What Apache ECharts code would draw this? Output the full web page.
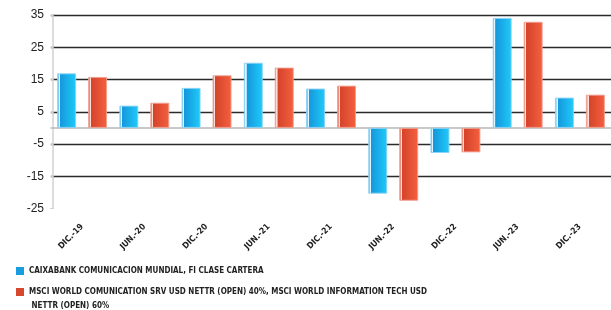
<!DOCTYPE html>
<html>
<head>
<meta charset="utf-8">
<script src="https://cdn.jsdelivr.net/npm/echarts@6/dist/echarts.min.js"></script>
<style>
  html, body { margin: 0; padding: 0; background: #fff; }
  #chart { width: 611px; height: 310px; }
</style>
</head>
<body>
<div id="chart"></div>
<script>
    // datos
    var periodos = ['DIC.-19', 'JUN.-20', 'DIC.-20', 'JUN.-21', 'DIC.-21', 'JUN.-22', 'DIC.-22', 'JUN.-23', 'DIC.-23'];
    var fondo = [16.9, 6.9, 12.4, 20.2, 12.2, -20.4, -7.8, 34.1, 9.4];
    var indice = [15.8, 7.8, 16.3, 18.7, 13.1, -22.6, -7.6, 32.9, 10.3];
    var marcasY = [-25, -15, -5, 5, 15, 25, 35];

    var nombreFondo = 'CAIXABANK COMUNICACION MUNDIAL, FI CLASE CARTERA';
    var nombreIndice = 'MSCI WORLD COMUNICATION SRV USD NETTR (OPEN) 40%, MSCI WORLD INFORMATION TECH USD NETTR (OPEN) 60%';

    var fuenteEstrecha = "'Liberation Sans Narrow', 'DejaVu Sans Condensed', sans-serif";

    function degradado(borde, brillo, ini, fin) {
        return new echarts.graphic.LinearGradient(0, 0, 1, 0, [
            { offset: 0, color: borde },
            { offset: 0.08, color: borde },
            { offset: 0.09, color: brillo },
            { offset: 0.14, color: brillo },
            { offset: 0.15, color: ini },
            { offset: 1, color: fin }
        ]);
    }

    var textoLeyenda = {
        fontFamily: fuenteEstrecha,
        fontSize: 8,
        fontWeight: 'bold',
        color: '#222',
        lineHeight: 14
    };

    var grafico = echarts.init(document.getElementById('chart'));

    grafico.setOption({
        animation: false,
        grid: {
            left: 51,
            right: -14,
            top: 15,
            bottom: 101.5
        },
        legend: [
            {
                data: [{ name: nombreFondo, itemStyle: { color: '#1a9de0', borderWidth: 0 } }],
                orient: 'vertical',
                left: 16,
                top: 264,
                padding: 0,
                icon: 'rect',
                itemWidth: 8,
                itemHeight: 8,
                textStyle: textoLeyenda
            },
            {
                data: [{ name: nombreIndice, itemStyle: { color: '#d5472f', borderWidth: 0 } }],
                orient: 'vertical',
                left: 16,
                top: 271,
                padding: 0,
                icon: 'rect',
                itemWidth: 8,
                itemHeight: 8,
                // linea vacia arriba para que el icono quede en la primera linea
                formatter: function (name) {
                    return '\n' + name.replace(' NETTR (OPEN) 60%', '\n NETTR (OPEN) 60%');
                },
                textStyle: textoLeyenda
            }
        ],
        xAxis: {
            type: 'category',
            data: periodos,
            offset: 6,
            axisLine: { lineStyle: { color: '#b8b8b8', width: 1.5 } },
            axisTick: { alignWithLabel: true, length: 4, lineStyle: { color: '#b8b8b8' } },
            axisLabel: {
                rotate: 45,
                margin: 11,
                fontFamily: fuenteEstrecha,
                fontSize: 8.5,
                fontWeight: 'bold',
                color: '#222'
            }
        },
        yAxis: {
            type: 'value',
            min: -25,
            max: 35,
            offset: -2,
            axisLine: { show: true, lineStyle: { color: '#d0d0d0', width: 1.5 } },
            axisTick: { show: true, length: 3, customValues: marcasY, lineStyle: { color: '#d0d0d0' } },
            axisLabel: {
                customValues: marcasY,
                margin: 9,
                fontFamily: "'Liberation Sans', Arial, sans-serif",
                fontSize: 12,
                color: '#222'
            },
            splitLine: {
                show: true,
                lineStyle: {
                    color: ['rgba(0,0,0,0)', '#2a2a2a', '#2a2a2a', '#2a2a2a', '#2a2a2a', '#2a2a2a', '#2a2a2a'],
                    width: 1.4
                }
            }
        },
        series: [
            {
                name: nombreFondo,
                type: 'bar',
                data: fondo,
                barWidth: 19,
                barGap: '63%',
                itemStyle: {
                    color: degradado('#7fcdf2', '#e2f5fd', '#1597dc', '#1fcbf9'),
                    borderColor: 'rgba(140,210,245,0.9)',
                    borderWidth: 1
                }
            },
            {
                name: nombreIndice,
                type: 'bar',
                data: indice,
                barWidth: 19,
                itemStyle: {
                    color: degradado('#ef8c7a', '#fcded8', '#d4442b', '#f55f3e'),
                    borderColor: 'rgba(240,160,145,0.9)',
                    borderWidth: 1
                }
            }
        ]
    });
</script>
</body>
</html>
